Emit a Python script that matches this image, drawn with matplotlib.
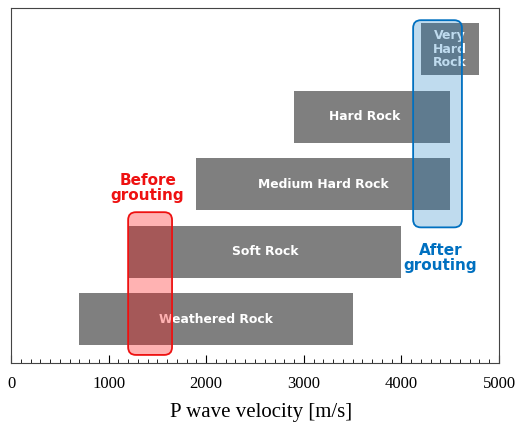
import matplotlib.pyplot as plt
from matplotlib.patches import FancyBboxPatch
from matplotlib.ticker import MultipleLocator

# rock classes by P wave velocity range [m/s]
rocks = ['Weathered Rock', 'Soft Rock', 'Medium Hard Rock', 'Hard Rock', 'Very\nHard\nRock']
v_min = [700, 1200, 1900, 2900, 4200]
v_max = [3500, 4000, 4500, 4500, 4800]

# grouting ranges
before_range = [1200, 1650]
after_range = [4120, 4620]

fig = plt.figure(figsize=(5.19, 4.23), dpi=100)
ax = fig.add_axes([0.0212, 0.1418, 0.9403, 0.8392])

ypos = list(range(len(rocks)))
widths = [b - a for a, b in zip(v_min, v_max)]
ax.barh(ypos, widths, left=v_min, height=0.77, color='#7f7f7f', zorder=1)

for i, name in enumerate(rocks):
    cx = (v_min[i] + v_max[i]) / 2
    if i == 3:
        cx -= 80
    ax.text(cx, ypos[i], name, ha='center', va='center', color='white',
            fontweight='bold', fontsize=8.9 if i < 4 else 9, family='DejaVu Sans',
            linespacing=1.05, zorder=2)

asp = (1 / 67.5) / 10.25
red = FancyBboxPatch((before_range[0], -0.53), before_range[1] - before_range[0], 2.115,
                     boxstyle='round,pad=0,rounding_size=80', mutation_aspect=asp,
                     facecolor=(1, 0, 0, 0.3), edgecolor='#ee1111', linewidth=1.3, zorder=3)
ax.add_patch(red)
blue = FancyBboxPatch((after_range[0], 1.36), after_range[1] - after_range[0], 3.07,
                      boxstyle='round,pad=0,rounding_size=80', mutation_aspect=asp,
                      facecolor=(0, 0.44, 0.75, 0.25), edgecolor='#0070c0', linewidth=1.3, zorder=3)
ax.add_patch(blue)

ax.text(1400, 1.95, 'Before\ngrouting', ha='center', va='center', color='#ee1111',
        fontweight='bold', fontsize=11, family='DejaVu Sans', linespacing=1.0)
ax.text(4400, 0.9, 'After\ngrouting', ha='center', va='center', color='#0070c0',
        fontweight='bold', fontsize=11, family='DejaVu Sans', linespacing=1.0)

ax.set_xlim(0, 5000)
ax.set_ylim(-0.65, 4.61)
ax.set_yticks([])
ax.xaxis.set_major_locator(MultipleLocator(1000))
ax.xaxis.set_minor_locator(MultipleLocator(100))
ax.tick_params(axis='x', which='major', direction='in', length=6, width=0.8,
               labelsize=12, pad=9)
ax.tick_params(axis='x', which='minor', direction='in', length=3, width=0.6)
for lab in ax.get_xticklabels():
    lab.set_family('Liberation Serif')
ax.set_xlabel('P wave velocity [m/s]', fontsize=15, family='Liberation Serif', labelpad=8)
ax.xaxis.label.set_x(0.512)
for s in ax.spines.values():
    s.set_color('#444444')
    s.set_linewidth(0.8)

fig.savefig('out.png', dpi=100)
